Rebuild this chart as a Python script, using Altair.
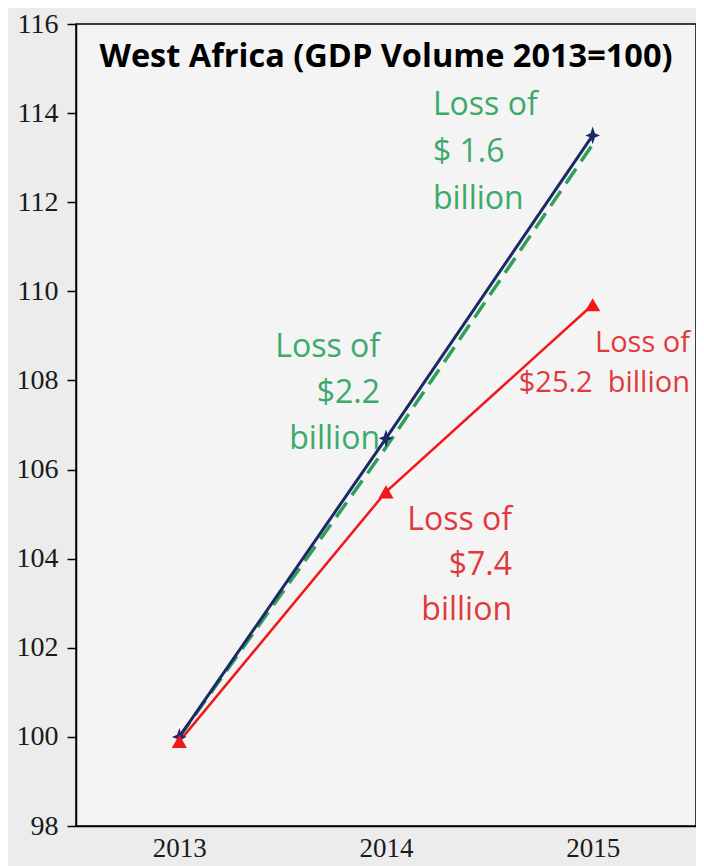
import altair as alt
import pandas as pd

years = [2013, 2014, 2015]
baseline = [100.0, 106.7, 113.5]
scenario_green = [100.0, 106.5, 113.3]
scenario_red = [99.9, 105.5, 109.7]

y_ticks = [98, 100, 102, 104, 106, 108, 110, 112, 114, 116]
x_axis_values = [2013, 2013.5, 2014, 2014.5, 2015]

title_text = "West Africa (GDP Volume 2013=100)"

ann_green_2015 = "Loss of\n$ 1.6\nbillion"
ann_green_2014 = "Loss of\n$2.2\nbillion"
ann_red_2014 = "Loss of\n$7.4\nbillion"
ann_red_2015 = "Loss of\n$25.2\u00a0 billion"

NAVY = "#1B2A66"
GREEN = "#2FA05A"
GREEN_TXT = "#3BAA6A"
RED = "#F01818"
RED_TXT = "#E03A3E"

df = pd.DataFrame({
    "year": years * 3,
    "value": baseline + scenario_green + scenario_red,
    "series": ["baseline"] * 3 + ["green"] * 3 + ["red"] * 3,
})

xscale = alt.Scale(domain=[2012.5, 2015.5], nice=False, zero=False)
yscale = alt.Scale(domain=[98, 116], nice=False, zero=False)

x_axis = alt.Axis(
    values=x_axis_values, format="d", title=None, grid=False,
    labelExpr="datum.value % 1 === 0 ? datum.label : ''",
    tickOpacity={"condition": {"test": "datum.value % 1 === 0", "value": 0}, "value": 1},
    tickSize=7, tickColor="black", tickWidth=1.5,
    domainColor="black", domainWidth=1.5,
    labelFont="Liberation Serif", labelFontSize=27, labelColor="#1a1a1a",
    labelPadding=2, labelOverlap=False,
)
y_axis = alt.Axis(
    values=y_ticks, format="d", title=None, grid=False,
    tickSize=9, tickColor="black", tickWidth=1.5,
    domainColor="black", domainWidth=1.5,
    labelFont="Liberation Serif", labelFontSize=28, labelColor="#1a1a1a",
    labelPadding=9,
)

base = alt.Chart(df)

x_enc = alt.X("year:Q", scale=xscale, axis=x_axis)
y_enc = alt.Y("value:Q", scale=yscale, axis=y_axis)

green_line = base.transform_filter("datum.series === 'green'").mark_line(
    color=GREEN, strokeWidth=3.5, strokeDash=[18, 9]
).encode(x=x_enc, y=y_enc)

navy_line = base.transform_filter("datum.series === 'baseline'").mark_line(
    color=NAVY, strokeWidth=3
).encode(x=x_enc, y=y_enc)

red_line = base.transform_filter("datum.series === 'red'").mark_line(
    color=RED, strokeWidth=2.5
).encode(x=x_enc, y=y_enc)

star = "M0,-1.2L0.3,-0.3L1,0L0.3,0.3L0,1.2L-0.3,0.3L-1,0L-0.3,-0.3Z"
navy_pts = base.transform_filter("datum.series === 'baseline'").mark_point(
    shape=star, filled=True, color=NAVY, size=220, opacity=1
).encode(x=x_enc, y=y_enc)

red_pts = base.transform_filter("datum.series === 'red'").mark_point(
    shape="triangle-up", filled=True, color=RED, size=230, opacity=1
).encode(x=x_enc, y=y_enc)


def label(text, x, y, color, align, size, lh, bold=False):
    return alt.Chart(pd.DataFrame({"t": [text]})).mark_text(
        align=align, baseline="middle", font="Open Sans", fontSize=size,
        fontWeight="bold" if bold else "normal", color=color,
        lineBreak="\n", lineHeight=lh,
    ).encode(
        x=alt.X(datum=x, type="quantitative", scale=xscale),
        y=alt.Y(datum=y, type="quantitative", scale=yscale),
        text="t:N",
    )


title = label(title_text, 2014.0, 115.26, "black", "center", 32.5, 36, bold=True)
a1 = label(ann_green_2015, 2014.227, 114.18, GREEN_TXT, "left", 32, 47)
a2 = label(ann_green_2014, 2013.971, 108.75, GREEN_TXT, "right", 32, 46)
a3 = label(ann_red_2014, 2014.610, 104.87, RED_TXT, "right", 32, 45)
a4 = label(ann_red_2015, 2015.471, 108.84, RED_TXT, "right", 29, 40)

chart = alt.layer(
    green_line, navy_line, red_line, navy_pts, red_pts, title, a1, a2, a3, a4
).properties(
    width=620, height=802,
    autosize=alt.AutoSizeParams(type="none"),
    padding={"left": 68, "top": 16, "right": 0, "bottom": 40},
    background="#ECECEC",
).configure_view(
    stroke="black", strokeWidth=1.5, fill="#F4F4F4"
)

chart.save("out.html", embed_options={"renderer": "svg", "actions": False})
